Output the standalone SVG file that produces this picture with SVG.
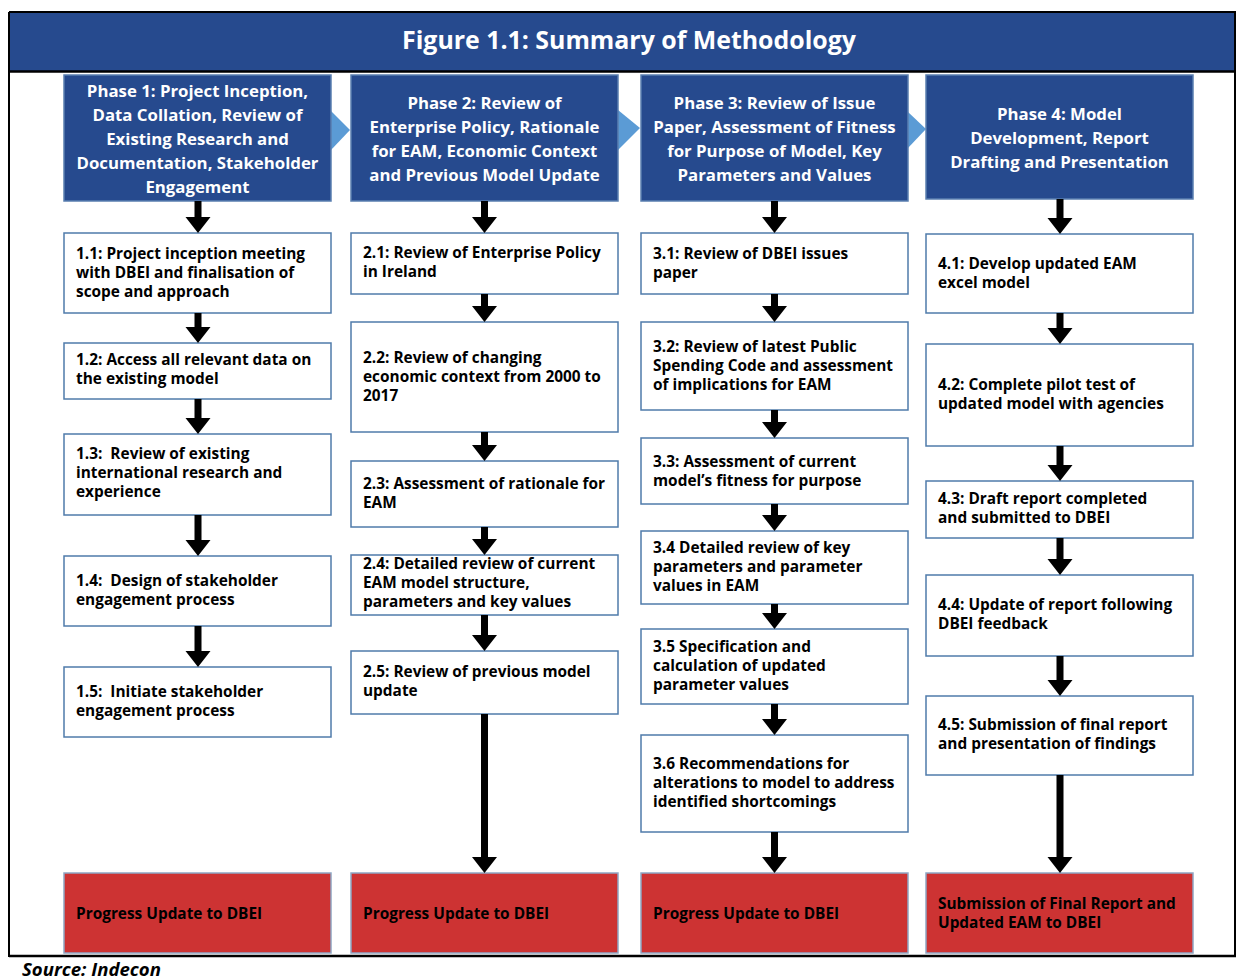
<svg xmlns="http://www.w3.org/2000/svg" width="1236" height="980" viewBox="0 0 1236 980">
<style>
.frame{fill:none;stroke:#000;stroke-width:2}
.hdr{fill:#264A8E;stroke:#5A7FB0;stroke-width:1.5}
.box{fill:#fff;stroke:#4F7BAA;stroke-width:1.5}
.red{fill:#CD3333;stroke:#8FA6C4;stroke-width:1.5}
.chev{fill:#5B9BD5}
.ht{font-family:"Open Sans",Lato,sans-serif;font-weight:bold;font-size:16.8px;fill:#fff;text-anchor:middle}
.bt{font-family:"Open Sans",Lato,sans-serif;font-weight:bold;font-size:15.4px;fill:#000}
.title{font-family:"Open Sans",Lato,sans-serif;font-weight:bold;font-size:24.9px;fill:#fff;text-anchor:middle}
.src{font-family:"Open Sans",Lato,sans-serif;font-weight:bold;font-style:italic;font-size:18.6px;fill:#000}
.arr{fill:#000}
</style>
<rect x="0" y="0" width="1236" height="980" fill="#fff"/>
<g id="frame">
<rect x="9" y="12" width="1228" height="59" fill="#264A8E"/>
<line x1="9" y1="12" x2="1236" y2="12" class="frame"/>
<line x1="9" y1="12" x2="9" y2="957" class="frame"/>
<line x1="9" y1="71.5" x2="1236" y2="71.5" stroke="#000" stroke-width="2.5"/>
<line x1="9" y1="956" x2="1236" y2="956" stroke="#000" stroke-width="2.5"/>
<line x1="1235" y1="12" x2="1235" y2="957" class="frame"/>
<text class="title" x="629" y="49">Figure 1.1: Summary of Methodology</text>
</g>
<g id="chevrons">
<polygon class="chev" points="331,111 350,130 331,150"/>
<polygon class="chev" points="618,110 640,128 618,150"/>
<polygon class="chev" points="908,112 926,129 908,148"/>
</g>
<g id="phase1">
<rect class="hdr" x="64" y="75" width="267" height="126"/>
<text class="ht" x="197.5"><tspan x="197.5" y="97">Phase 1: Project Inception,</tspan><tspan x="197.5" y="121">Data Collation, Review of</tspan><tspan x="197.5" y="145">Existing Research and</tspan><tspan x="197.5" y="169">Documentation, Stakeholder</tspan><tspan x="197.5" y="193">Engagement</tspan></text>
</g>
<g id="phase2">
<rect class="hdr" x="351" y="75" width="267" height="126"/>
<text class="ht"><tspan x="484.5" y="109">Phase 2: Review of</tspan><tspan x="484.5" y="133">Enterprise Policy, Rationale</tspan><tspan x="484.5" y="157">for EAM, Economic Context</tspan><tspan x="484.5" y="181">and Previous Model Update</tspan></text>
</g>
<g id="phase3">
<rect class="hdr" x="641" y="75" width="267" height="126"/>
<text class="ht"><tspan x="774.5" y="109">Phase 3: Review of Issue</tspan><tspan x="774.5" y="133">Paper, Assessment of Fitness</tspan><tspan x="774.5" y="157">for Purpose of Model, Key</tspan><tspan x="774.5" y="181">Parameters and Values</tspan></text>
</g>
<g id="phase4">
<rect class="hdr" x="926" y="75" width="267" height="124"/>
<text class="ht"><tspan x="1059.5" y="120">Phase 4: Model</tspan><tspan x="1059.5" y="144">Development, Report</tspan><tspan x="1059.5" y="168">Drafting and Presentation</tspan></text>
</g>

<g id="s1-1"><rect class="box" x="64" y="233" width="267" height="80"/><text class="bt"><tspan x="76" y="259">1.1: Project inception meeting</tspan><tspan x="76" y="278">with DBEI and finalisation of</tspan><tspan x="76" y="297">scope and approach</tspan></text></g>
<g id="s1-2"><rect class="box" x="64" y="343" width="267" height="56"/><text class="bt"><tspan x="76" y="365">1.2: Access all relevant data on</tspan><tspan x="76" y="384">the existing model</tspan></text></g>
<g id="s1-3"><rect class="box" x="64" y="434" width="267" height="81"/><text class="bt"><tspan x="76" y="459">1.3:&#160; Review of existing</tspan><tspan x="76" y="478">international research and</tspan><tspan x="76" y="497">experience</tspan></text></g>
<g id="s1-4"><rect class="box" x="64" y="556" width="267" height="70"/><text class="bt"><tspan x="76" y="586">1.4:&#160; Design of stakeholder</tspan><tspan x="76" y="605">engagement process</tspan></text></g>
<g id="s1-5"><rect class="box" x="64" y="667" width="267" height="70"/><text class="bt"><tspan x="76" y="697">1.5:&#160; Initiate stakeholder</tspan><tspan x="76" y="716">engagement process</tspan></text></g>
<g id="r1"><rect class="red" x="64" y="873" width="267" height="80"/><text class="bt" x="76" y="919">Progress Update to DBEI</text></g>

<g id="s2-1"><rect class="box" x="351" y="233" width="267" height="61"/><text class="bt"><tspan x="363" y="258">2.1: Review of Enterprise Policy</tspan><tspan x="363" y="277">in Ireland</tspan></text></g>
<g id="s2-2"><rect class="box" x="351" y="322" width="267" height="110"/><text class="bt"><tspan x="363" y="363">2.2: Review of changing</tspan><tspan x="363" y="382">economic context from 2000 to</tspan><tspan x="363" y="401">2017</tspan></text></g>
<g id="s2-3"><rect class="box" x="351" y="461" width="267" height="66"/><text class="bt"><tspan x="363" y="489">2.3: Assessment of rationale for</tspan><tspan x="363" y="508">EAM</tspan></text></g>
<g id="s2-4"><rect class="box" x="351" y="555" width="267" height="60"/><text class="bt"><tspan x="363" y="569">2.4: Detailed review of current</tspan><tspan x="363" y="588">EAM model structure,</tspan><tspan x="363" y="607">parameters and key values</tspan></text></g>
<g id="s2-5"><rect class="box" x="351" y="651" width="267" height="63"/><text class="bt"><tspan x="363" y="677">2.5: Review of previous model</tspan><tspan x="363" y="696">update</tspan></text></g>
<g id="r2"><rect class="red" x="351" y="873" width="267" height="80"/><text class="bt" x="363" y="919">Progress Update to DBEI</text></g>

<g id="s3-1"><rect class="box" x="641" y="233" width="267" height="61"/><text class="bt"><tspan x="653" y="259">3.1: Review of DBEI issues</tspan><tspan x="653" y="278">paper</tspan></text></g>
<g id="s3-2"><rect class="box" x="641" y="322" width="267" height="88"/><text class="bt"><tspan x="653" y="352">3.2: Review of latest Public</tspan><tspan x="653" y="371">Spending Code and assessment</tspan><tspan x="653" y="390">of implications for EAM</tspan></text></g>
<g id="s3-3"><rect class="box" x="641" y="438" width="267" height="66"/><text class="bt"><tspan x="653" y="467">3.3: Assessment of current</tspan><tspan x="653" y="486">model’s fitness for purpose</tspan></text></g>
<g id="s3-4"><rect class="box" x="641" y="531" width="267" height="73"/><text class="bt"><tspan x="653" y="553">3.4 Detailed review of key</tspan><tspan x="653" y="572">parameters and parameter</tspan><tspan x="653" y="591">values in EAM</tspan></text></g>
<g id="s3-5"><rect class="box" x="641" y="629" width="267" height="75"/><text class="bt"><tspan x="653" y="652">3.5 Specification and</tspan><tspan x="653" y="671">calculation of updated</tspan><tspan x="653" y="690">parameter values</tspan></text></g>
<g id="s3-6"><rect class="box" x="641" y="735" width="267" height="97"/><text class="bt"><tspan x="653" y="769">3.6 Recommendations for</tspan><tspan x="653" y="788">alterations to model to address</tspan><tspan x="653" y="807">identified shortcomings</tspan></text></g>
<g id="r3"><rect class="red" x="641" y="873" width="267" height="80"/><text class="bt" x="653" y="919">Progress Update to DBEI</text></g>

<g id="s4-1"><rect class="box" x="926" y="234" width="267" height="79"/><text class="bt"><tspan x="938" y="269">4.1: Develop updated EAM</tspan><tspan x="938" y="288">excel model</tspan></text></g>
<g id="s4-2"><rect class="box" x="926" y="344" width="267" height="102"/><text class="bt"><tspan x="938" y="390">4.2: Complete pilot test of</tspan><tspan x="938" y="409">updated model with agencies</tspan></text></g>
<g id="s4-3"><rect class="box" x="926" y="481" width="267" height="57"/><text class="bt"><tspan x="938" y="504">4.3: Draft report completed</tspan><tspan x="938" y="523">and submitted to DBEI</tspan></text></g>
<g id="s4-4"><rect class="box" x="926" y="575" width="267" height="81"/><text class="bt"><tspan x="938" y="610">4.4: Update of report following</tspan><tspan x="938" y="629">DBEI feedback</tspan></text></g>
<g id="s4-5"><rect class="box" x="926" y="696" width="267" height="79"/><text class="bt"><tspan x="938" y="730">4.5: Submission of final report</tspan><tspan x="938" y="749">and presentation of findings</tspan></text></g>
<g id="r4"><rect class="red" x="926" y="873" width="267" height="80"/><text class="bt"><tspan x="938" y="909">Submission of Final Report and</tspan><tspan x="938" y="928">Updated EAM to DBEI</tspan></text></g>

<g id="connectors" class="arr">
<path d="M194.5 201h7v16h9l-12.5 16l-12.5-16h9z"/>
<path d="M194.5 313h7v14h9l-12.5 16l-12.5-16h9z"/>
<path d="M194.5 399h7v19h9l-12.5 16l-12.5-16h9z"/>
<path d="M194.5 515h7v25h9l-12.5 16l-12.5-16h9z"/>
<path d="M194.5 626h7v25h9l-12.5 16l-12.5-16h9z"/>

<path d="M481 201h7v16h9l-12.5 16l-12.5-16h9z"/>
<path d="M481 294h7v12h9l-12.5 16l-12.5-16h9z"/>
<path d="M481 432h7v13h9l-12.5 16l-12.5-16h9z"/>
<path d="M481 527h7v12h9l-12.5 16l-12.5-16h9z"/>
<path d="M481 615h7v20h9l-12.5 16l-12.5-16h9z"/>
<path d="M481 714h7v143h9l-12.5 16l-12.5-16h9z"/>

<path d="M771 201h7v16h9l-12.5 16l-12.5-16h9z"/>
<path d="M771 294h7v12h9l-12.5 16l-12.5-16h9z"/>
<path d="M771 410h7v12h9l-12.5 16l-12.5-16h9z"/>
<path d="M771 504h7v11h9l-12.5 16l-12.5-16h9z"/>
<path d="M771 604h7v9h9l-12.5 16l-12.5-16h9z"/>
<path d="M771 704h7v15h9l-12.5 16l-12.5-16h9z"/>
<path d="M771 832h7v25h9l-12.5 16l-12.5-16h9z"/>

<path d="M1056.5 199h7v19h9l-12.5 16l-12.5-16h9z"/>
<path d="M1056.5 313h7v15h9l-12.5 16l-12.5-16h9z"/>
<path d="M1056.5 446h7v19h9l-12.5 16l-12.5-16h9z"/>
<path d="M1056.5 538h7v21h9l-12.5 16l-12.5-16h9z"/>
<path d="M1056.5 656h7v24h9l-12.5 16l-12.5-16h9z"/>
<path d="M1056.5 775h7v82h9l-12.5 16l-12.5-16h9z"/>
</g>
<text class="src" x="22" y="976">Source: Indecon</text>
</svg>
